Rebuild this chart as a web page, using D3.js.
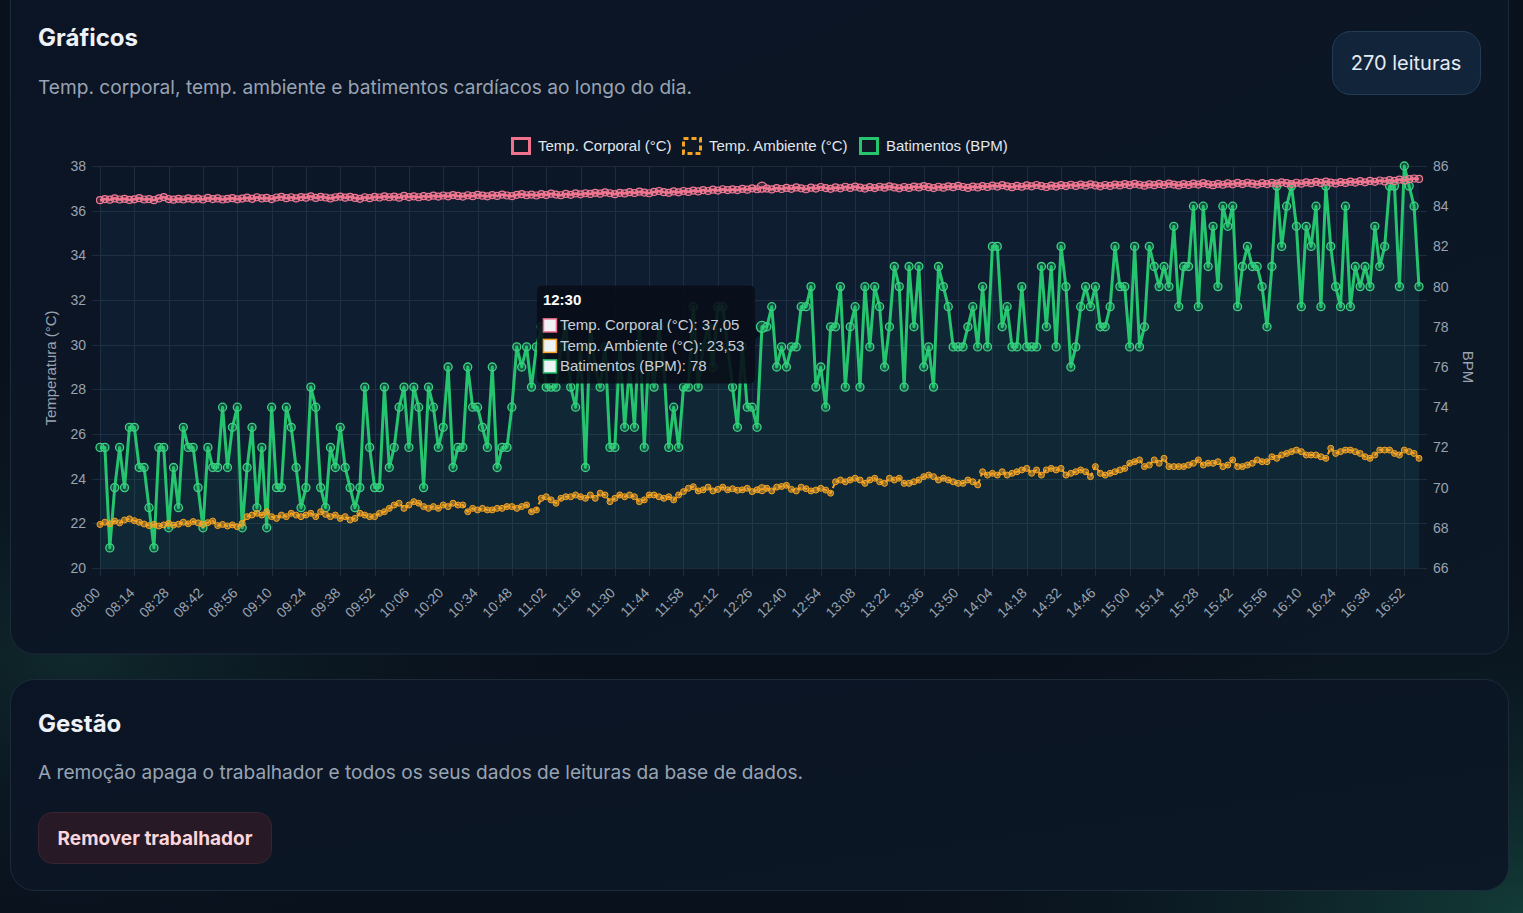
<!DOCTYPE html>
<html><head><meta charset="utf-8">
<script src="https://cdn.jsdelivr.net/npm/d3@7/dist/d3.min.js"></script>
<style>
html,body{margin:0;padding:0;background:#09111d;}
body{width:1523px;height:913px;overflow:hidden;}
svg{display:block;}
</style></head><body>
<svg id="c" width="1523" height="913"></svg>
<script>
// ---------- DATA ----------
const startTime = "08:00";
const stepMinutes = 2;
const seriesNames = ["Temp. Corporal (°C)", "Temp. Ambiente (°C)", "Batimentos (BPM)"];
const tempTicks = [20,22,24,26,28,30,32,34,36,38];
const bpmTicks = [66,68,70,72,74,76,78,80,82,84,86];
const hoverIndex = 135;

const bodyTemp = [
36.47,36.52,36.49,36.55,36.50,36.53,36.48,36.51,36.56,36.50,
36.52,36.47,36.55,36.61,36.52,36.49,36.53,36.50,36.55,36.51,
36.54,36.50,36.57,36.52,36.55,36.50,36.53,36.56,36.51,36.54,
36.58,36.53,36.60,36.55,36.57,36.52,36.59,36.62,36.56,36.60,
36.55,36.61,36.58,36.64,36.57,36.62,36.59,36.55,36.60,36.63,
36.58,36.62,36.57,36.53,36.60,36.56,36.62,36.59,36.64,36.60,
36.63,36.58,36.66,36.61,36.64,36.60,36.65,36.62,36.67,36.63,
36.68,36.64,36.70,36.66,36.63,36.69,36.65,36.71,36.67,36.64,
36.70,36.66,36.72,36.68,36.65,36.71,36.74,36.69,36.72,36.68,
36.74,36.70,36.76,36.72,36.69,36.75,36.71,36.77,36.73,36.78,
36.75,36.80,36.76,36.82,36.78,36.74,36.80,36.77,36.83,36.79,
36.85,36.81,36.78,36.84,36.88,36.83,36.80,36.86,36.82,36.88,
36.84,36.90,36.86,36.92,36.88,36.94,36.90,36.96,36.92,36.95,
36.92,36.98,36.94,37.00,36.96,37.05,36.99,36.95,37.01,36.97,
37.02,36.98,37.04,37.00,36.96,37.03,36.99,37.06,37.01,36.98,
37.04,37.00,37.07,37.02,37.08,37.03,36.99,37.05,37.01,37.07,
37.03,37.09,37.04,37.00,37.06,37.02,37.08,37.04,37.10,37.05,
37.01,37.07,37.03,37.09,37.05,37.11,37.06,37.02,37.08,37.04,
37.10,37.06,37.12,37.08,37.14,37.09,37.05,37.11,37.07,37.13,
37.09,37.15,37.10,37.06,37.12,37.08,37.14,37.10,37.16,37.11,
37.17,37.12,37.18,37.13,37.09,37.15,37.11,37.17,37.13,37.19,
37.14,37.20,37.16,37.12,37.18,37.14,37.20,37.15,37.21,37.17,
37.13,37.19,37.15,37.21,37.17,37.23,37.18,37.14,37.20,37.16,
37.22,37.18,37.24,37.19,37.25,37.21,37.17,37.23,37.19,37.25,
37.21,37.27,37.23,37.19,37.25,37.21,37.27,37.23,37.29,37.24,
37.30,37.26,37.22,37.28,37.24,37.30,37.26,37.32,37.27,37.33,
37.29,37.35,37.31,37.37,37.33,37.39,37.35,37.41,37.44,37.42
];

const ambientTemp = [
21.95,22.05,21.98,22.10,22.02,22.15,22.20,22.12,22.05,21.97,
21.90,21.95,21.88,21.93,22.00,21.92,21.96,22.05,21.98,22.08,
22.02,21.95,22.03,22.10,21.90,21.95,21.88,21.93,21.85,22.00,
22.30,22.37,22.45,22.37,22.52,22.30,22.22,22.37,22.30,22.45,
22.37,22.30,22.37,22.45,22.30,22.52,22.40,22.30,22.37,22.22,
22.30,22.15,22.22,22.45,22.37,22.30,22.30,22.45,22.52,22.67,
22.82,22.90,22.67,22.82,22.97,22.90,22.75,22.67,22.75,22.67,
22.82,22.75,22.90,22.82,22.82,22.52,22.67,22.60,22.67,22.60,
22.60,22.67,22.67,22.75,22.75,22.67,22.75,22.82,22.52,22.60,
23.12,23.19,23.05,22.90,23.12,23.19,23.19,23.27,23.19,23.12,
23.27,23.12,23.35,23.27,22.97,23.12,23.27,23.19,23.27,23.19,
22.97,23.05,23.27,23.27,23.19,23.12,23.19,23.05,23.27,23.42,
23.57,23.64,23.45,23.50,23.62,23.45,23.52,23.62,23.50,23.55,
23.48,23.50,23.57,23.42,23.50,23.53,23.57,23.45,23.62,23.65,
23.70,23.52,23.45,23.62,23.55,23.45,23.49,23.57,23.49,23.35,
23.86,23.94,23.86,23.94,24.02,23.94,23.79,23.94,24.02,23.86,
23.79,24.02,23.94,24.02,23.79,23.79,23.86,23.94,24.09,24.16,
24.09,23.94,24.02,23.94,23.86,23.79,23.79,23.94,23.86,23.72,
24.31,24.16,24.24,24.16,24.31,24.16,24.24,24.31,24.39,24.46,
24.24,24.39,24.16,24.39,24.46,24.39,24.46,24.16,24.24,24.31,
24.39,24.31,24.09,24.54,24.24,24.16,24.24,24.31,24.39,24.46,
24.69,24.76,24.84,24.54,24.61,24.84,24.69,24.91,24.54,24.54,
24.54,24.54,24.61,24.69,24.84,24.61,24.69,24.69,24.76,24.54,
24.61,24.84,24.54,24.54,24.61,24.69,24.84,24.76,24.76,24.98,
24.91,25.06,25.13,25.21,25.28,25.21,25.06,25.06,25.06,24.98,
24.91,25.36,25.13,25.21,25.28,25.28,25.21,25.13,24.98,24.91,
25.06,25.28,25.28,25.28,25.13,25.06,25.28,25.21,25.13,24.91
];

const heartRate = [
72,72,67,70,72,70,73,73,71,71,
69,67,72,72,68,71,69,73,72,72,
70,68,72,71,71,74,71,73,74,68,
71,73,69,72,68,74,70,70,74,73,
71,69,70,75,74,70,69,72,71,73,
71,70,69,70,75,72,70,70,75,71,
72,74,75,72,75,74,70,75,74,72,
73,76,71,72,72,76,74,74,73,72,
76,71,72,72,74,77,76,77,75,77,
78,75,75,75,77,78,75,74,77,71,
78,76,75,77,72,72,77,73,76,73,
78,72,77,75,78,76,72,74,72,75,
75,79,75,77,78,76,79,79,77,75,
73,77,74,74,73,78,78,79,76,77,
76,77,77,79,79,80,75,76,74,78,
78,80,75,78,79,75,80,77,80,79,
76,78,81,80,75,81,78,81,76,77,
75,81,80,79,77,77,77,78,79,77,
80,77,82,82,78,79,77,77,80,77,
77,77,81,78,81,77,82,80,76,77,
79,80,79,80,78,78,79,82,80,80,
77,82,77,78,82,81,80,81,80,83,
79,81,81,84,79,84,81,83,80,84,
83,84,79,81,82,81,81,80,78,81,
85,82,84,85,83,79,83,82,84,79,
85,82,80,79,84,79,81,80,81,80,
83,81,82,85,85,80,86,85,84,80
];

// ---------- BUILD ----------
const N = heartRate.length;
const [h0, m0] = startTime.split(":").map(Number);
const labels = d3.range(N).map(i => {
  const t = h0 * 60 + m0 + i * stepMinutes;
  return String(Math.floor(t / 60)).padStart(2, "0") + ":" + String(t % 60).padStart(2, "0");
});
const tickIdx = d3.range(0, N, 7);

const W = 1523, H = 913;
const svg = d3.select("#c");
const defs = svg.append("defs");

const SANS = "Inter, 'Noto Sans', sans-serif";
const CHART = "'Liberation Sans', Arial, Helvetica, sans-serif";

// page background glow
const g1 = defs.append("radialGradient").attr("id","glowBR").attr("cx","100%").attr("cy","100%").attr("r","45%");
g1.append("stop").attr("offset","0%").attr("stop-color","#14403a").attr("stop-opacity",0.9);
g1.append("stop").attr("offset","100%").attr("stop-color","#09111d").attr("stop-opacity",0);
const g2 = defs.append("radialGradient").attr("id","glowL").attr("cx","5%").attr("cy","72%").attr("r","35%");
g2.append("stop").attr("offset","0%").attr("stop-color","#123232").attr("stop-opacity",0.7);
g2.append("stop").attr("offset","100%").attr("stop-color","#09111d").attr("stop-opacity",0);
svg.append("rect").attr("width",W).attr("height",H).attr("fill","#09111d");
svg.append("rect").attr("width",W).attr("height",H).attr("fill","url(#glowL)");
svg.append("rect").attr("width",W).attr("height",H).attr("fill","url(#glowBR)");

const cardGrad = defs.append("linearGradient").attr("id","cardG").attr("x1","0").attr("y1","0").attr("x2","1").attr("y2","1");
cardGrad.append("stop").attr("offset","0%").attr("stop-color","#0b1424");
cardGrad.append("stop").attr("offset","100%").attr("stop-color","#0c1826");

// cards
svg.append("rect").attr("x",10.5).attr("y",-30).attr("width",1498).attr("height",684).attr("rx",24)
  .attr("fill","url(#cardG)").attr("stroke","#1c2a3a").attr("stroke-width",1);
svg.append("rect").attr("x",10.5).attr("y",679.5).attr("width",1498).attr("height",211).attr("rx",24)
  .attr("fill","url(#cardG)").attr("stroke","#1c2a3a").attr("stroke-width",1);

// header texts
svg.append("text").attr("x",38).attr("y",46).text("Gráficos")
  .attr("font-family",SANS).attr("font-weight",700).attr("font-size",24).attr("fill","#eef2f7");
svg.append("text").attr("x",38).attr("y",94).text("Temp. corporal, temp. ambiente e batimentos cardíacos ao longo do dia.")
  .attr("font-family",SANS).attr("font-size",19).attr("fill","#98a3b3").attr("textLength",654).attr("lengthAdjust","spacingAndGlyphs");

// badge
svg.append("rect").attr("x",1332.5).attr("y",31.5).attr("width",148).attr("height",63).attr("rx",18)
  .attr("fill","#12243a").attr("stroke","#223c56");
svg.append("text").attr("x",1406).attr("y",70).attr("text-anchor","middle").text(`${N} leituras`)
  .attr("font-family",SANS).attr("font-size",20).attr("fill","#e4ebf3");

// second card
svg.append("text").attr("x",38).attr("y",732).text("Gestão")
  .attr("font-family",SANS).attr("font-weight",700).attr("font-size",24).attr("fill","#eef2f7");
svg.append("text").attr("x",38).attr("y",779).text("A remoção apaga o trabalhador e todos os seus dados de leituras da base de dados.")
  .attr("font-family",SANS).attr("font-size",19).attr("fill","#98a3b3").attr("textLength",765).attr("lengthAdjust","spacingAndGlyphs");
svg.append("rect").attr("x",38.5).attr("y",812.5).attr("width",233).attr("height",51).attr("rx",14)
  .attr("fill","#271a26").attr("stroke","#3a2430");
svg.append("text").attr("x",155).attr("y",845).attr("text-anchor","middle").text("Remover trabalhador")
  .attr("font-family",SANS).attr("font-weight",700).attr("font-size",19).attr("fill","#fbd5dc");

// ---------- CHART ----------
const P = {left:100, right:1419, top:166, bottom:568};
const x = d3.scalePoint().domain(d3.range(N)).range([P.left, P.right]);
const yT = d3.scaleLinear().domain([tempTicks[0], tempTicks[tempTicks.length-1]]).range([P.bottom, P.top]);
const yB = d3.scaleLinear().domain([bpmTicks[0], bpmTicks[bpmTicks.length-1]]).range([P.bottom, P.top]);

const COL = {body:"#f0728c", amb:"#f5a524", bpm:"#25c46f"};

// plot bg
svg.append("rect").attr("x",P.left).attr("y",P.top).attr("width",P.right-P.left).attr("height",P.bottom-P.top)
  .attr("fill","#0b1627");

// grid
const grid = svg.append("g").attr("stroke","#1d2b3c").attr("stroke-width",1);
tempTicks.forEach(t => grid.append("line").attr("x1",P.left-8).attr("x2",P.right+8)
  .attr("y1",Math.round(yT(t))+0.5).attr("y2",Math.round(yT(t))+0.5));
tickIdx.forEach(i => grid.append("line").attr("x1",Math.round(x(i))+0.5).attr("x2",Math.round(x(i))+0.5)
  .attr("y1",P.top).attr("y2",P.bottom+8));

// fills
const areaBody = d3.area().x((d,i)=>x(i)).y0(P.bottom).y1(d=>yT(d));
svg.append("path").datum(bodyTemp).attr("d",areaBody).attr("fill","rgba(70,130,190,0.07)");
const areaBpm = d3.area().x((d,i)=>x(i)).y0(P.bottom).y1(d=>yB(d));
svg.append("path").datum(heartRate).attr("d",areaBpm).attr("fill","rgba(37,196,111,0.07)");

// BPM line + points
const lineB = d3.line().x((d,i)=>x(i)).y(d=>yB(d));
svg.append("path").datum(heartRate).attr("d",lineB).attr("fill","none")
  .attr("stroke",COL.bpm).attr("stroke-width",3).attr("stroke-linejoin","round");
svg.append("g").selectAll("circle").data(heartRate).join("circle")
  .attr("cx",(d,i)=>x(i)).attr("cy",d=>yB(d)).attr("r",(d,i)=>i===hoverIndex?5.5:4)
  .attr("fill","rgba(37,196,111,0.3)").attr("stroke","#3fd284").attr("stroke-width",1.3);

// ambient
const lineA = d3.line().x((d,i)=>x(i)).y(d=>yT(d));
svg.append("path").datum(ambientTemp).attr("d",lineA).attr("fill","none")
  .attr("stroke",COL.amb).attr("stroke-width",2).attr("stroke-dasharray","4,3");
svg.append("g").selectAll("circle").data(ambientTemp).join("circle")
  .attr("cx",(d,i)=>x(i)).attr("cy",d=>yT(d)).attr("r",(d,i)=>i===hoverIndex?4.5:3)
  .attr("fill","rgba(245,165,36,0.55)").attr("stroke",COL.amb).attr("stroke-width",1);

// body
svg.append("path").datum(bodyTemp).attr("d",lineA).attr("fill","none")
  .attr("stroke",COL.body).attr("stroke-width",2.5);
svg.append("g").selectAll("circle").data(bodyTemp).join("circle")
  .attr("cx",(d,i)=>x(i)).attr("cy",d=>yT(d)).attr("r",(d,i)=>i===hoverIndex?5:3.5)
  .attr("fill","rgba(240,114,140,0.2)").attr("stroke","#f27a94").attr("stroke-width",1.2);

// axes
const axL = svg.append("g").attr("transform",`translate(${P.left},0)`)
  .call(d3.axisLeft(yT).tickValues(tempTicks).tickSize(0).tickPadding(14));
const axR = svg.append("g").attr("transform",`translate(${P.right},0)`)
  .call(d3.axisRight(yB).tickValues(bpmTicks).tickSize(0).tickPadding(14));
[axL, axR].forEach(a => {
  a.select(".domain").remove();
  a.selectAll("text").attr("font-family",CHART).attr("font-size",14).attr("fill","#9aa3b0");
});
const axB = svg.append("g").attr("transform",`translate(0,${P.bottom})`)
  .call(d3.axisBottom(x).tickValues(tickIdx).tickFormat(i=>labels[i]).tickSize(0));
axB.select(".domain").remove();
axB.selectAll("text").attr("font-family",CHART).attr("font-size",14).attr("fill","#9aa3b0")
  .attr("text-anchor","end").attr("dy",null).attr("y",null)
  .attr("dominant-baseline","middle")
  .attr("transform","translate(-2,23) rotate(-45)");

svg.append("text").attr("transform","translate(56,368) rotate(-90)").attr("text-anchor","middle")
  .text("Temperatura (°C)").attr("font-family",CHART).attr("font-size",15).attr("fill","#9aa3b0");
svg.append("text").attr("transform","translate(1463,367) rotate(90)").attr("text-anchor","middle")
  .text("BPM").attr("font-family",CHART).attr("font-size",15).attr("fill","#9aa3b0");

// legend
const legendItems = [
  {name:seriesNames[0], x:511, col:COL.body, dash:null},
  {name:seriesNames[1], x:682, col:COL.amb, dash:"5,3"},
  {name:seriesNames[2], x:859, col:COL.bpm, dash:null}
];
const lg = svg.append("g");
legendItems.forEach(it => {
  lg.append("rect").attr("x",it.x+1.5).attr("y",138.5).attr("width",17).attr("height",15)
    .attr("fill","#101826").attr("stroke",it.col).attr("stroke-width",3)
    .attr("stroke-dasharray",it.dash);
  lg.append("text").attr("x",it.x+27).attr("y",151).text(it.name)
    .attr("font-family",CHART).attr("font-size",15).attr("fill","#e2e7ee");
});

// tooltip
const fmt = v => d3.format(".2f")(v).replace(".", ",");
const tipLines = [
  {name:seriesNames[0], v:fmt(bodyTemp[hoverIndex]), col:COL.body},
  {name:seriesNames[1], v:fmt(ambientTemp[hoverIndex]), col:COL.amb},
  {name:seriesNames[2], v:String(heartRate[hoverIndex]), col:COL.bpm}
];
const px = x(hoverIndex);
const py = (yT(bodyTemp[hoverIndex]) + yT(ambientTemp[hoverIndex]) + yB(heartRate[hoverIndex])) / 3;
const tipW = 218, tipH = 98;
const tx = px - 7 - tipW, ty = py - tipH/2;
const tip = svg.append("g");
tip.append("path").attr("d",
  `M${tx+6},${ty} H${tx+tipW-6} Q${tx+tipW},${ty} ${tx+tipW},${ty+6} V${py-5} L${tx+tipW+5},${py} L${tx+tipW},${py+5} V${ty+tipH-6} Q${tx+tipW},${ty+tipH} ${tx+tipW-6},${ty+tipH} H${tx+6} Q${tx},${ty+tipH} ${tx},${ty+tipH-6} V${ty+6} Q${tx},${ty} ${tx+6},${ty} Z`)
  .attr("fill","rgba(9,14,24,0.9)");
tip.append("text").attr("x",tx+6).attr("y",ty+20).text(labels[hoverIndex])
  .attr("font-family",CHART).attr("font-weight",700).attr("font-size",15).attr("fill","#ffffff");
tipLines.forEach((l,k) => {
  const yy = ty + 40 + k*20.5;
  tip.append("rect").attr("x",tx+6.5).attr("y",yy-6.5).attr("width",13).attr("height",13)
    .attr("fill","#eef3f8").attr("stroke",l.col).attr("stroke-width",1.5);
  tip.append("text").attr("x",tx+23).attr("y",yy+5).text(`${l.name}: ${l.v}`)
    .attr("font-family",CHART).attr("font-size",15).attr("fill","#c9d0da");
});
</script>
</body></html>
